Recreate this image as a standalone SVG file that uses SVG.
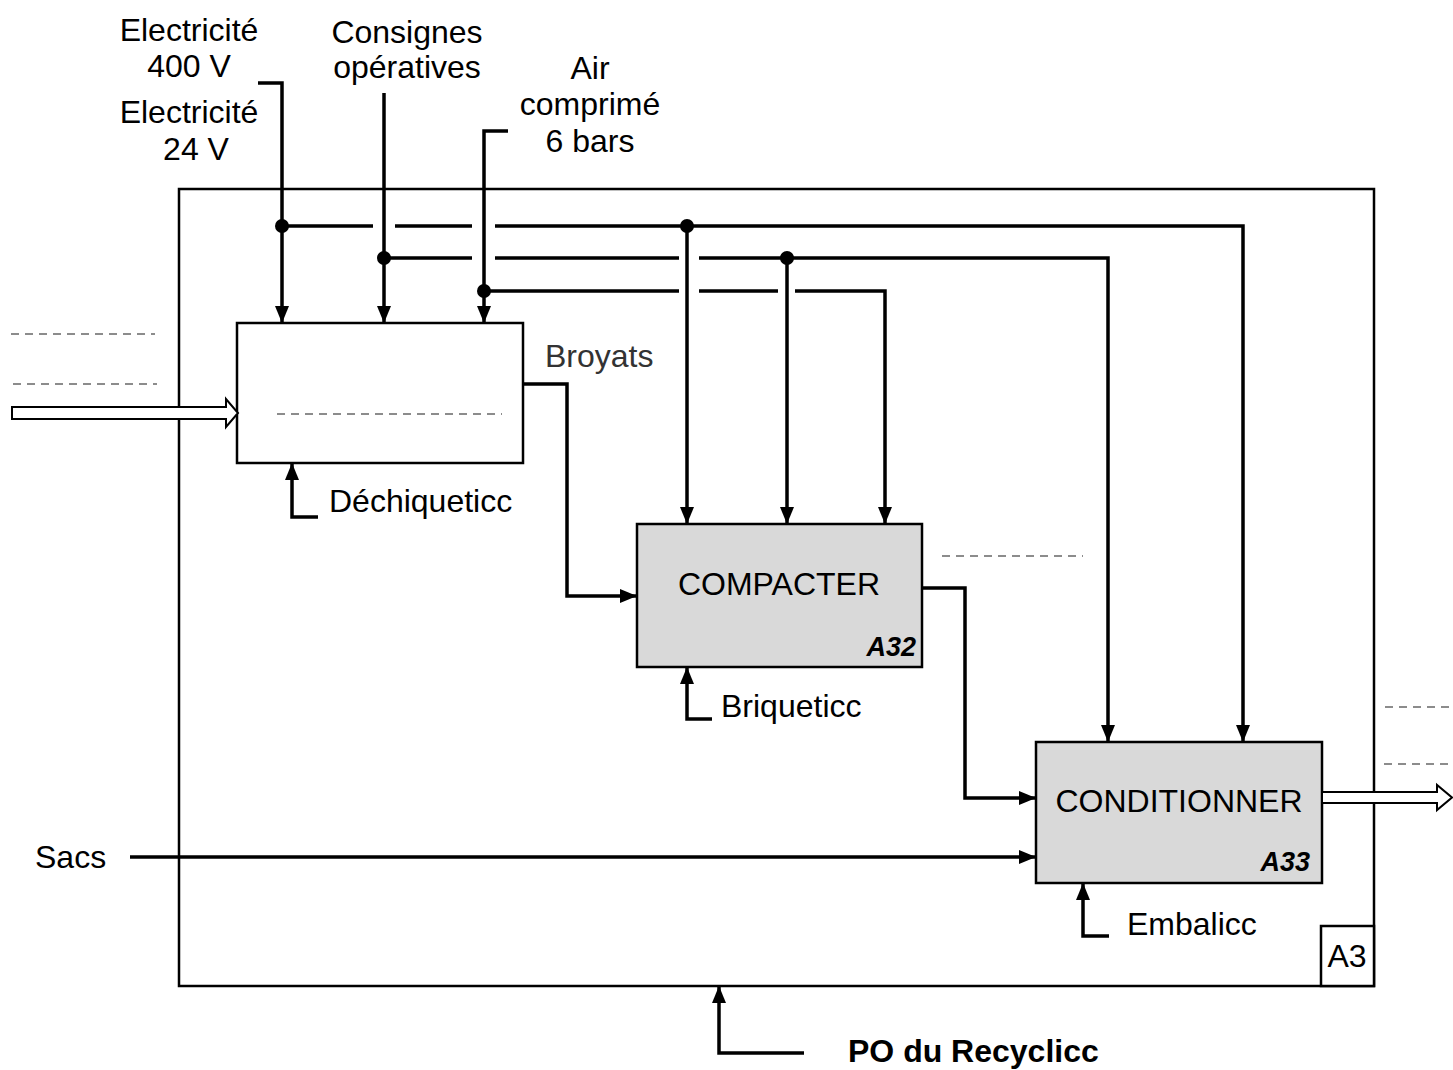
<svg xmlns="http://www.w3.org/2000/svg" width="1453" height="1070" viewBox="0 0 1453 1070">
<defs>
<style>
text{font-family:"Liberation Sans",Arial,sans-serif;font-size:32px;fill:#000}
.c{text-anchor:middle}
.r{text-anchor:end}
.num{font-weight:bold;font-style:italic;font-size:27px}
.box{stroke:#000;stroke-width:2.5}
.ln{fill:none;stroke:#000;stroke-width:3.5}
.arr{marker-end:url(#ah)}
.dash{fill:none;stroke:#8c8c8c;stroke-width:2;stroke-dasharray:8 6}
.hol{fill:#fff;stroke:#000;stroke-width:2}
</style>
<marker id="ah" markerWidth="17" markerHeight="14" refX="17" refY="7" orient="auto" markerUnits="userSpaceOnUse">
<path d="M0,0 L17,7 L0,14 z" fill="#000"/>
</marker>
</defs>
<rect width="1453" height="1070" fill="#fff"/>

<g id="frame">
<rect x="179" y="189" width="1195" height="797" fill="none" class="box"/>
<rect x="1321" y="926" width="53" height="60" fill="#fff" class="box"/>
<text x="1347" y="967" class="c">A3</text>
</g>

<g id="A31">
<rect x="237" y="323" width="286" height="140" fill="#fff" class="box"/>
</g>
<g id="A32">
<rect x="637" y="524" width="285" height="143" fill="#d9d9d9" class="box"/>
<text x="779" y="595" class="c">COMPACTER</text>
<text x="916" y="656" class="r num">A32</text>
</g>
<g id="A33">
<rect x="1036" y="742" width="286" height="141" fill="#d9d9d9" class="box"/>
<text x="1179" y="812" class="c">CONDITIONNER</text>
<text x="1310" y="871" class="r num">A33</text>
</g>

<g id="dashes">
<path class="dash" d="M11,334 H155 M13,384 H157 M277,414 H502 M942,556 H1083 M1385,707 H1453 M1384,764 H1453"/>
</g>

<g id="connectors">
<path class="ln arr" d="M258,83 H282 V323"/>
<path class="ln" d="M282,226 H373 M395,226 H472"/>
<path class="ln arr" d="M495,226 H1243 V742"/>
<path class="ln arr" d="M687,226 V524"/>
<path class="ln arr" d="M384,93 V323"/>
<path class="ln" d="M384,258 H472 M495,258 H679"/>
<path class="ln arr" d="M699,258 H1108 V742"/>
<path class="ln arr" d="M787,258 V524"/>
<path class="ln arr" d="M508,131 H484 V323"/>
<path class="ln" d="M484,291 H679 M699,291 H778"/>
<path class="ln arr" d="M795,291 H885 V524"/>
<path class="ln arr" d="M523,384 H567 V596 H637"/>
<path class="ln arr" d="M922,588 H965 V798 H1036"/>
<path class="ln arr" d="M130,857 H1036"/>
<path class="ln arr" d="M318,517 H292 V463"/>
<path class="ln arr" d="M712,719 H687 V667"/>
<path class="ln arr" d="M1109,936 H1083 V883"/>
<path class="ln arr" d="M804,1053 H719 V986"/>
<g fill="#000">
<circle cx="282" cy="226" r="7"/>
<circle cx="687" cy="226" r="7"/>
<circle cx="384" cy="258" r="7"/>
<circle cx="787" cy="258" r="7"/>
<circle cx="484" cy="291" r="7"/>
</g>
<polygon class="hol" points="12,407 226,407 226,399 238,413 226,427 226,419 12,419"/>
<polygon class="hol" points="1322,792 1437,792 1437,785 1452,797.5 1437,810 1437,803 1322,803"/>
</g>

<g id="labels">
<text x="189" y="41" class="c">Electricité</text>
<text x="189" y="77" class="c">400 V</text>
<text x="189" y="123" class="c">Electricité</text>
<text x="196" y="160" class="c">24 V</text>
<text x="407" y="43" class="c">Consignes</text>
<text x="407" y="78" class="c">opératives</text>
<text x="590" y="79" class="c">Air</text>
<text x="590" y="115" class="c">comprimé</text>
<text x="590" y="152" class="c">6 bars</text>
<text x="545" y="367" style="fill:#333">Broyats</text>
<text x="329" y="512">Déchiqueticc</text>
<text x="721" y="717">Briqueticc</text>
<text x="1127" y="935">Embalicc</text>
<text x="35" y="868">Sacs</text>
<text x="848" y="1062" style="font-weight:bold">PO du Recyclicc</text>
</g>
</svg>
